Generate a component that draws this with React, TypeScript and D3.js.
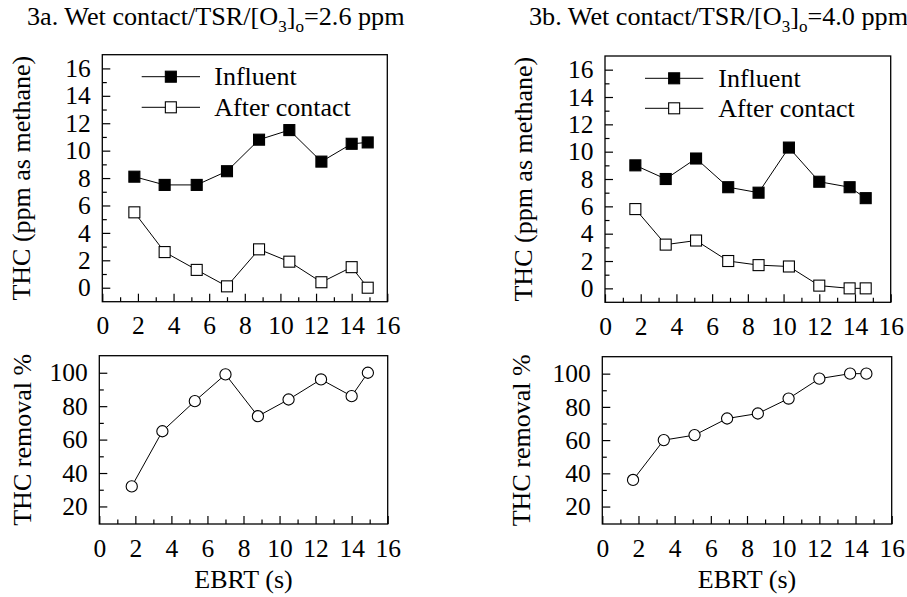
import React, { useEffect, useRef } from 'react';
import * as d3 from 'd3';

// EBRT (s) for each run
const ebrtA = [1.8, 3.5, 5.3, 7.0, 8.8, 10.5, 12.3, 14.0, 14.9];
const influentA = [8.1, 7.5, 7.5, 8.5, 10.8, 11.5, 9.2, 10.5, 10.6];
const afterA = [5.5, 2.6, 1.3, 0.1, 2.8, 1.9, 0.4, 1.5, 0.0];
const removalA = [32, 65, 83, 99, 74, 84, 96, 86, 100];

const ebrtB = [1.7, 3.4, 5.1, 6.9, 8.6, 10.3, 12.0, 13.7, 14.6];
const influentB = [9.0, 8.0, 9.5, 7.4, 7.0, 10.3, 7.8, 7.4, 6.6];
const afterB = [5.8, 3.2, 3.5, 2.0, 1.7, 1.6, 0.2, 0.0, 0.0];
const removalB = [36, 60, 63, 73, 76, 85, 97, 100, 100];

const xTicks = [0, 2, 4, 6, 8, 10, 12, 14, 16];
const xMinor = [1, 3, 5, 7, 9, 11, 13, 15];
const thcTicks = [0, 2, 4, 6, 8, 10, 12, 14, 16];
const thcMinor = [1, 3, 5, 7, 9, 11, 13, 15];
const removalTicks = [20, 40, 60, 80, 100];
const removalMinor = [30, 50, 70, 90];

const seriesNames = ['Influent', 'After contact'];

const FONT = "'Liberation Serif'";
const FS = 25.5;

type Sel = d3.Selection<any, unknown, null, undefined>;

type Panel = {
  left: number; right: number; top: number; bottom: number;
  yDomain: [number, number];
  yTicks: number[]; yMinor: number[];
  yLabel: string; yLabelX: number;
  xLabel?: string;
  ebrt: number[];
  series: { values: number[]; marker: 'filled' | 'open' | 'circle' }[];
  legend?: { lineX1: number; lineX2: number; textX: number; ys: number[] };
};

const serif = (t: Sel, size = FS) => t
  .style('font-family', FONT)
  .style('font-size', `${size}px`)
  .attr('fill', '#000');

function drawPanel(svg: Sel, p: Panel) {
  const x = d3.scaleLinear().domain([0, 16]).range([p.left, p.right]);
  const y = d3.scaleLinear().domain(p.yDomain).range([p.bottom, p.top]);
  const g = svg.append('g');

  // axes with ticks pointing inward, minor ticks between labels
  g.append('g')
    .attr('transform', `translate(0,${p.bottom})`)
    .call(d3.axisBottom(x).tickValues(xTicks).tickSize(-8).tickPadding(14.5));
  g.append('g')
    .attr('transform', `translate(0,${p.bottom})`)
    .call(d3.axisBottom(x).tickValues(xMinor).tickSize(-4.5).tickFormat(() => ''));
  g.append('g')
    .attr('transform', `translate(${p.left},0)`)
    .call(d3.axisLeft(y).tickValues(p.yTicks).tickSize(-8).tickPadding(11.5));
  g.append('g')
    .attr('transform', `translate(${p.left},0)`)
    .call(d3.axisLeft(y).tickValues(p.yMinor).tickSize(-4.5).tickFormat(() => ''));

  g.selectAll('.domain').remove();
  g.selectAll('.tick line').attr('stroke', '#000').attr('stroke-width', 1.2);
  serif(g.selectAll('.tick text') as Sel);

  // frame
  g.append('rect')
    .attr('x', p.left).attr('y', p.top)
    .attr('width', p.right - p.left).attr('height', p.bottom - p.top)
    .attr('fill', 'none').attr('stroke', '#000').attr('stroke-width', 1.3);

  const line = d3.line<[number, number]>().x((d) => x(d[0])).y((d) => y(d[1]));

  const drawMarker = (sel: Sel, cx: number, cy: number, kind: string) => {
    if (kind === 'circle') {
      sel.append('circle').attr('cx', cx).attr('cy', cy).attr('r', 5.6)
        .attr('fill', '#fff').attr('stroke', '#000').attr('stroke-width', 1.1);
    } else {
      sel.append('rect').attr('x', cx - 5.5).attr('y', cy - 5.5).attr('width', 11).attr('height', 11)
        .attr('fill', kind === 'filled' ? '#000' : '#fff').attr('stroke', '#000').attr('stroke-width', 1.1);
    }
  };

  p.series.forEach((s) => {
    const pts = p.ebrt.map((e, i) => [e, s.values[i]] as [number, number]);
    g.append('path').attr('d', line(pts)).attr('fill', 'none').attr('stroke', '#000').attr('stroke-width', 1);
    const mg = g.append('g');
    pts.forEach((d) => drawMarker(mg, x(d[0]), y(d[1]), s.marker));
  });

  // legend
  if (p.legend) {
    const lg = p.legend;
    p.series.forEach((s, i) => {
      const ly = lg.ys[i];
      const row = g.append('g');
      row.append('line').attr('x1', lg.lineX1).attr('x2', lg.lineX2).attr('y1', ly).attr('y2', ly)
        .attr('stroke', '#000').attr('stroke-width', 1);
      drawMarker(row, (lg.lineX1 + lg.lineX2) / 2, ly, s.marker);
      serif(row.append('text').attr('x', lg.textX).attr('y', ly).attr('dy', '0.33em'), 26)
        .text(seriesNames[i]);
    });
  }

  // axis titles
  serif(g.append('text')
    .attr('transform', `translate(${p.yLabelX},${(p.top + p.bottom) / 2}) rotate(-90)`)
    .attr('text-anchor', 'middle'), 26)
    .text(p.yLabel);
  if (p.xLabel) {
    serif(g.append('text')
      .attr('x', (p.left + p.right) / 2).attr('y', 588)
      .attr('text-anchor', 'middle'), 26)
      .text(p.xLabel);
  }
}

function drawTitle(svg: Sel, x: number, label: string, conc: string) {
  const t = serif(svg.append('text').attr('x', x).attr('y', 25), 26.2);
  t.append('tspan').text(`${label}. Wet contact/TSR/[O`);
  t.append('tspan').attr('dy', 7).style('font-size', '17px').text('3');
  t.append('tspan').attr('dy', -7).text(']');
  t.append('tspan').attr('dy', 7).style('font-size', '17px').text('o');
  t.append('tspan').attr('dy', -7).text(`=${conc} ppm`);
}

const App = () => {
  const ref = useRef<SVGSVGElement>(null);

  useEffect(() => {
    drawChart();
  }, []);

  function drawChart() {
    const svg = d3.select(ref.current as SVGSVGElement) as Sel;
    svg.selectAll('*').remove();

    drawTitle(svg, 27, '3a', '2.6');
    drawTitle(svg, 529, '3b', '4.0');

    drawPanel(svg, {
      left: 102.3, right: 387.3, top: 54.7, bottom: 301.7,
      yDomain: [-1.02, 17], yTicks: thcTicks, yMinor: thcMinor,
      yLabel: 'THC (ppm as methane)', yLabelX: 30,
      ebrt: ebrtA,
      series: [{ values: influentA, marker: 'filled' }, { values: afterA, marker: 'open' }],
      legend: { lineX1: 141.7, lineX2: 200, textX: 214.3, ys: [76.7, 107.3] },
    });
    drawPanel(svg, {
      left: 99.3, right: 387.7, top: 355.7, bottom: 524,
      yDomain: [9.5, 110.2], yTicks: removalTicks, yMinor: removalMinor,
      yLabel: 'THC removal %', yLabelX: 31,
      xLabel: 'EBRT (s)',
      ebrt: ebrtA,
      series: [{ values: removalA, marker: 'circle' }],
    });
    drawPanel(svg, {
      left: 605, right: 890.7, top: 56, bottom: 302.3,
      yDomain: [-1.02, 17], yTicks: thcTicks, yMinor: thcMinor,
      yLabel: 'THC (ppm as methane)', yLabelX: 532,
      ebrt: ebrtB,
      series: [{ values: influentB, marker: 'filled' }, { values: afterB, marker: 'open' }],
      legend: { lineX1: 645, lineX2: 703.3, textX: 718.3, ys: [78.3, 108.3] },
    });
    drawPanel(svg, {
      left: 602.3, right: 891.7, top: 356.7, bottom: 524,
      yDomain: [9.5, 110.2], yTicks: removalTicks, yMinor: removalMinor,
      yLabel: 'THC removal %', yLabelX: 530,
      xLabel: 'EBRT (s)',
      ebrt: ebrtB,
      series: [{ values: removalB, marker: 'circle' }],
    });
  }

  return (
    <svg
      ref={ref}
      width={907}
      height={597}
      style={{ position: 'absolute', left: 0, top: 0, background: '#fff' }}
    />
  );
};

export default App;
